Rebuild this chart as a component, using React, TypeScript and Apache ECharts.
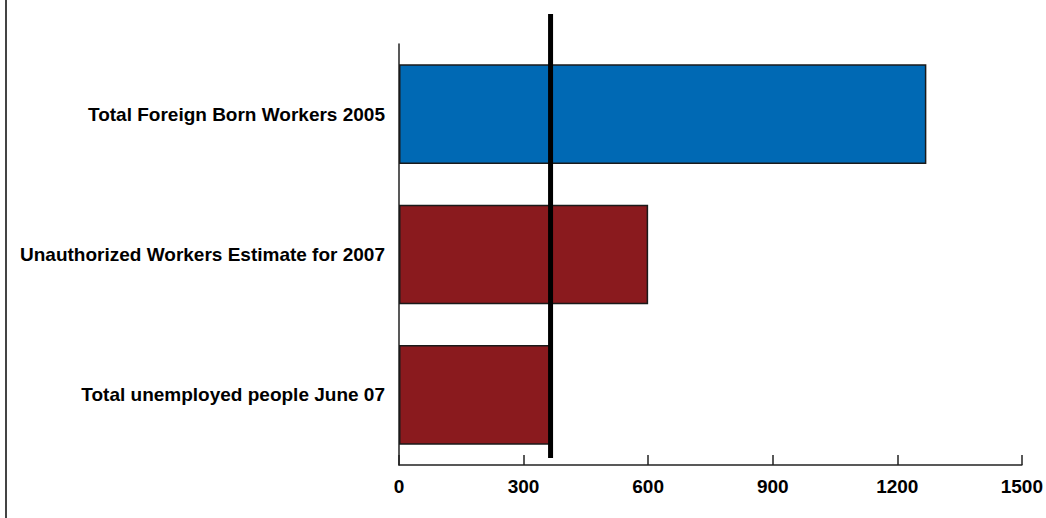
import React, { useEffect, useRef } from "react";
import * as echarts from "echarts";

// Workforce comparison (thousands)
const categories = [
  "Total Foreign Born Workers 2005",
  "Unauthorized Workers Estimate for 2007",
  "Total unemployed people June 07",
];
const values = [1270, 600, 365];
const barColors = ["#0069B4", "#8A1A1E", "#8A1A1E"];
const referenceValue = 365;
const xTicks = { min: 0, max: 1500, interval: 300 };

const FONT = "'Liberation Sans', Arial, sans-serif";

export default function App() {
  const ref = useRef<HTMLDivElement>(null);

  useEffect(() => {
    if (!ref.current) return;
    const chart = echarts.init(ref.current, null, { renderer: "svg" });
    chart.setOption({
      animation: false,
      backgroundColor: "#ffffff",
      grid: { left: 399, width: 624, top: 44, height: 421, containLabel: false },
      xAxis: {
        type: "value",
        min: xTicks.min,
        max: xTicks.max,
        interval: xTicks.interval,
        axisLine: { show: true, lineStyle: { color: "#222", width: 1.5 } },
        axisTick: { show: true, inside: true, length: 10, lineStyle: { color: "#222", width: 1.5 } },
        splitLine: { show: false },
        axisLabel: {
          color: "#000",
          fontFamily: FONT,
          fontWeight: "bold",
          fontSize: 19,
          margin: 12,
          formatter: (v: number) => String(v),
        },
      },
      yAxis: {
        type: "category",
        data: categories,
        inverse: true,
        axisLine: { show: true, lineStyle: { color: "#222", width: 1.5 } },
        axisTick: { show: false },
        axisLabel: {
          color: "#000",
          fontFamily: FONT,
          fontWeight: "bold",
          fontSize: 19,
          margin: 14,
        },
      },
      series: [
        {
          type: "bar",
          barCategoryGap: "29%",
          data: values.map((v, i) => ({
            value: v,
            itemStyle: { color: barColors[i], borderColor: "#1a1a1a", borderWidth: 1.5 },
          })),
        },
      ],
    });

    // Reference line drawn at its data position on the value axis
    const xRef = chart.convertToPixel({ xAxisIndex: 0 }, referenceValue) as number;
    chart.setOption({
      graphic: [
        {
          type: "line",
          shape: { x1: xRef, y1: 14, x2: xRef, y2: 458 },
          style: { stroke: "#000", lineWidth: 5 },
          z: 100,
        },
        {
          type: "line",
          shape: { x1: 6, y1: 0, x2: 6, y2: 518 },
          style: { stroke: "#444", lineWidth: 2 },
          z: 100,
        },
      ],
    });

    return () => chart.dispose();
  }, []);

  return (
    <div
      ref={ref}
      style={{ position: "fixed", left: 0, top: 0, width: 1046, height: 518 }}
    />
  );
}
